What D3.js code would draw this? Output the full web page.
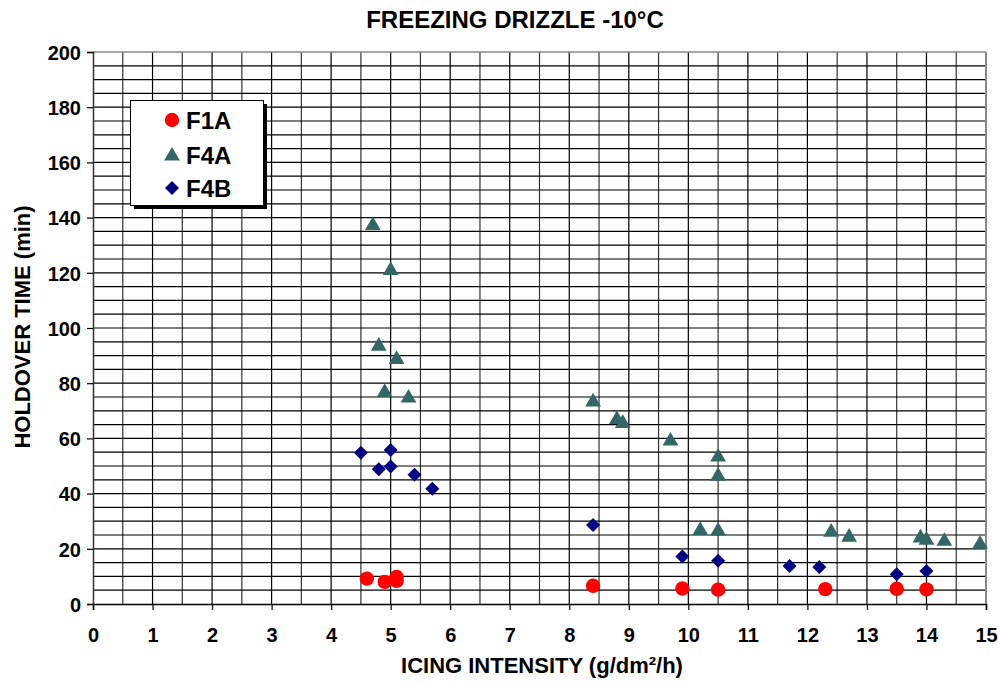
<!DOCTYPE html>
<html><head><meta charset="utf-8">
<script src="https://cdn.jsdelivr.net/npm/d3@7"></script>
<style>
html,body{margin:0;padding:0;background:#fff;}
text{font-family:"Liberation Sans",Arial,sans-serif;font-weight:bold;}
</style></head>
<body><svg id="c" width="1000" height="687"></svg>
<script>
const title = "FREEZING DRIZZLE -10°C";
const xTitle = "ICING INTENSITY (g/dm²/h)";
const yTitle = "HOLDOVER TIME (min)";
const xTicks = [0,1,2,3,4,5,6,7,8,9,10,11,12,13,14,15];
const yTicks = [0,20,40,60,80,100,120,140,160,180,200];
const seriesNames = ["F1A","F4A","F4B"];

const f1aX = [4.6, 4.9, 5.1, 5.1, 8.4, 9.9, 10.5, 12.3, 13.5, 14.0];
const f1aY = [9.2, 8.0, 8.4, 9.8, 6.6, 5.6, 5.2, 5.4, 5.5, 5.3];

const f4aX = [4.7, 5.0, 4.8, 5.1, 4.9, 5.3, 8.4, 8.8, 8.9, 9.7, 10.5, 10.5, 10.2, 10.5, 12.4, 12.7, 13.9, 14.0, 14.3, 14.9];
const f4aY = [137.5, 121.2, 93.8, 89.0, 77.0, 75.0, 73.6, 67.2, 65.8, 59.4, 53.6, 46.7, 27.0, 26.8, 26.4, 24.6, 24.3, 23.5, 23.1, 22.0];

const f4bX = [4.5, 5.0, 4.8, 5.0, 5.4, 5.7, 8.4, 9.9, 10.5, 11.7, 12.2, 13.5, 14.0];
const f4bY = [54.8, 55.8, 48.8, 49.8, 46.8, 41.8, 28.6, 17.2, 15.7, 13.8, 13.4, 10.8, 12.0];

const svg = d3.select("#c");
const L=93, R=986, T=52, B=604;
const x = d3.scaleLinear().domain([0,15]).range([L,R]);
const y = d3.scaleLinear().domain([0,200]).range([B,T]);

// grid
const g = svg.append("g");
g.selectAll(".vg").data(d3.range(0.5,15,0.5)).join("line")
  .attr("x1",d=>x(d)).attr("x2",d=>x(d)).attr("y1",T).attr("y2",B)
  .attr("stroke",d=>d%1===0?"#000":"#333").attr("stroke-width",1.2);
g.selectAll(".hg").data(d3.range(5,200,5)).join("line")
  .attr("x1",L).attr("x2",R).attr("y1",d=>y(d)).attr("y2",d=>y(d))
  .attr("stroke","#000").attr("stroke-width",1.2);
// frame top/right
svg.append("line").attr("x1",L).attr("x2",R).attr("y1",T).attr("y2",T).attr("stroke","#888").attr("stroke-width",1.5);
svg.append("line").attr("x1",R).attr("x2",R).attr("y1",T).attr("y2",B).attr("stroke","#888").attr("stroke-width",2);

// axes
const xa = svg.append("g").attr("transform",`translate(0,${B})`)
  .call(d3.axisBottom(x).tickValues(xTicks).tickSize(6).tickFormat(d3.format("d")));
xa.select(".domain").attr("stroke","#000").attr("stroke-width",1.5);
xa.selectAll(".tick line").attr("stroke","#000").attr("stroke-width",1.2);
xa.selectAll("text").attr("font-size",20).attr("dy","0").attr("y",38).attr("fill","#000");

const ya = svg.append("g").attr("transform",`translate(${L},0)`)
  .call(d3.axisLeft(y).tickValues(yTicks).tickSize(6).tickFormat(d3.format("d")));
ya.select(".domain").attr("stroke","#333").attr("stroke-width",1.5);
ya.selectAll(".tick line").attr("stroke","#000").attr("stroke-width",1.2);
ya.selectAll("text").attr("font-size",20).attr("x",-12).attr("dy","0.36em").attr("fill","#000");

// titles
svg.append("text").attr("x",515).attr("y",28).attr("text-anchor","middle").attr("font-size",24).text(title);
svg.append("text").attr("x",542).attr("y",673).attr("text-anchor","middle").attr("font-size",22).text(xTitle);
svg.append("text").attr("transform","translate(30,327) rotate(-90)").attr("text-anchor","middle").attr("font-size",22).text(yTitle);

// markers
const cols = {F1A:"#ff0000",F4A:"#336666",F4B:"#000080"};
const triSym = d3.symbol().type(d3.symbolTriangle).size(108);
const diaSym = d3.symbol().type(d3.symbolSquare).size(98);
svg.append("g").selectAll("path").data(d3.zip(f4aX,f4aY)).join("path")
  .attr("d",triSym).attr("transform",d=>`translate(${x(d[0])},${y(d[1])+1})`).attr("fill",cols.F4A);
svg.append("g").selectAll("path").data(d3.zip(f4bX,f4bY)).join("path")
  .attr("d",diaSym).attr("transform",d=>`translate(${x(d[0])},${y(d[1])}) rotate(45)`).attr("fill",cols.F4B);
svg.append("g").selectAll("circle").data(d3.zip(f1aX,f1aY)).join("circle")
  .attr("cx",d=>x(d[0])).attr("cy",d=>y(d[1])).attr("r",7.2).attr("fill",cols.F1A);

// legend
const lg = svg.append("g");
lg.append("rect").attr("x",134).attr("y",104).attr("width",133).attr("height",105).attr("fill","#000");
lg.append("rect").attr("x",130.5).attr("y",100.5).attr("width",133).attr("height",105).attr("fill","#fff").attr("stroke","#000").attr("stroke-width",1);
const ly = [120,155,188];
seriesNames.forEach((n,i)=>{
  const cx=172, cy=ly[i];
  if(n==="F1A") lg.append("circle").attr("cx",cx).attr("cy",cy).attr("r",7.2).attr("fill",cols[n]);
  else if(n==="F4A") lg.append("path").attr("d",triSym).attr("transform",`translate(${cx},${cy+1})`).attr("fill",cols[n]);
  else lg.append("path").attr("d",diaSym).attr("transform",`translate(${cx},${cy}) rotate(45)`).attr("fill",cols[n]);
  lg.append("text").attr("x",186).attr("y",cy).attr("dy","0.36em").attr("font-size",24).text(n);
});
</script></body></html>
